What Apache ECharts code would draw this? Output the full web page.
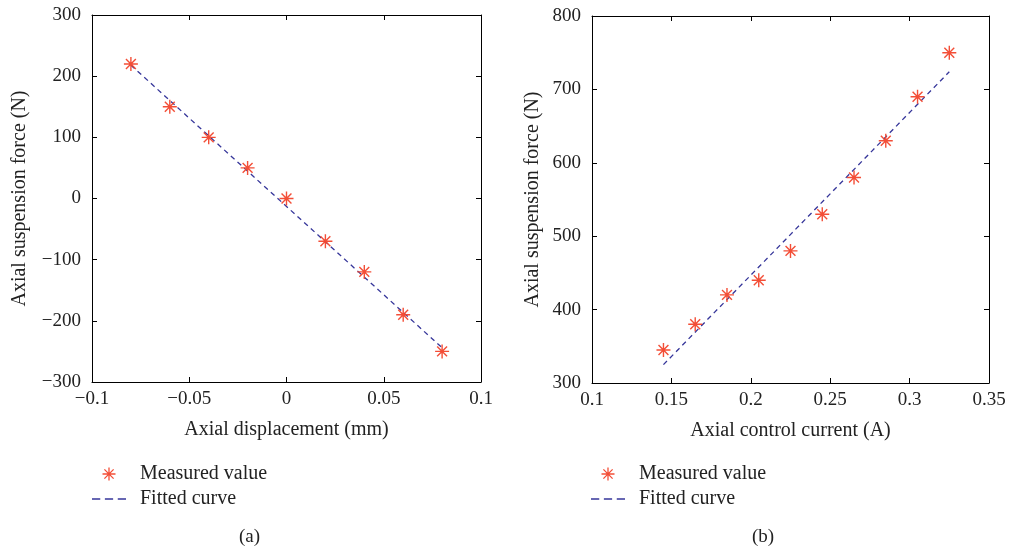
<!DOCTYPE html>
<html>
<head>
<meta charset="utf-8">
<script src="https://cdn.jsdelivr.net/npm/echarts@6/dist/echarts.min.js"></script>
<style>
  html, body { margin: 0; padding: 0; background: #fff; }
  #chart { width: 1009px; height: 554px; }
</style>
</head>
<body>
<div id="chart"></div>
<script>
// (a) force vs. displacement
const dispX = [-0.08, -0.06, -0.04, -0.02, 0, 0.02, 0.04, 0.06, 0.08];
const dispForce = [220, 150, 100, 50, 0, -70, -120, -190, -250];
const dispFitX = [-0.08, 0.08];
const dispFitY = [218, -244];

// (b) force vs. control current
const currX = [0.145, 0.165, 0.185, 0.205, 0.225, 0.245, 0.265, 0.285, 0.305, 0.325];
const currForce = [345, 380, 420, 440, 480, 530, 580, 630, 690, 750];
const currFitX = [0.145, 0.325];
const currFitY = [325, 724];

const MARK = '#f2452c';
const FIT = '#36369a';
const FONT = '"Liberation Serif", "DejaVu Serif", serif';
const TXT = '#222';

// eight-armed asterisk drawn as filled thin bars
const STAR = 'path://M-0.1,-1L0.1,-1L0.1,1L-0.1,1Z' +
  'M-1,-0.1L1,-0.1L1,0.1L-1,0.1Z' +
  'M-0.636,-0.778L0.778,0.636L0.636,0.778L-0.778,-0.636Z' +
  'M0.636,-0.778L0.778,-0.636L-0.636,0.778L-0.778,0.636Z';
const DASHES = 'path://M0,0h8v1.5h-8zM12.5,0h8v1.5h-8zM25,0h8v1.5h-8z';

const fmt = v => {
  const n = +v.toFixed(3);
  return n < 0 ? '\u2212' + Math.abs(n) : String(n);
};

const grids = [
  { left: 92, top: 15, width: 389, height: 367 },
  { left: 592, top: 16, width: 397, height: 367 }
];

function mainX(gi, name, min, max, interval) {
  return {
    type: 'value', gridIndex: gi, position: 'bottom', min, max, interval,
    name, nameLocation: 'middle', nameGap: 38,
    nameTextStyle: { fontFamily: FONT, fontSize: 20, color: TXT },
    axisLine: { onZero: false, lineStyle: { color: '#000', width: 1 } },
    axisTick: { inside: true, length: 5, lineStyle: { color: '#000' } },
    axisLabel: { formatter: fmt, fontFamily: FONT, fontSize: 19, color: TXT, margin: 8 },
    splitLine: { show: false }
  };
}
function boxX(gi, min, max, interval) {
  return {
    type: 'value', gridIndex: gi, position: 'top', min, max, interval,
    axisLine: { onZero: false, lineStyle: { color: '#000', width: 1 } },
    axisTick: { inside: true, length: 5, lineStyle: { color: '#000' } },
    axisLabel: { show: false }, splitLine: { show: false }
  };
}
function mainY(gi, name, min, max, interval) {
  return {
    type: 'value', gridIndex: gi, position: 'left', min, max, interval,
    name, nameLocation: 'middle', nameGap: 0,
    nameTextStyle: { fontFamily: FONT, fontSize: 20, color: TXT },
    axisLine: { onZero: false, lineStyle: { color: '#000', width: 1 } },
    axisTick: { inside: true, length: 5, lineStyle: { color: '#000' } },
    axisLabel: { formatter: fmt, fontFamily: FONT, fontSize: 19, color: TXT, margin: 11 },
    splitLine: { show: false }
  };
}
function boxY(gi, min, max, interval) {
  return {
    type: 'value', gridIndex: gi, position: 'right', min, max, interval,
    axisLine: { onZero: false, lineStyle: { color: '#000', width: 1 } },
    axisTick: { inside: true, length: 5, lineStyle: { color: '#000' } },
    axisLabel: { show: false }, splitLine: { show: false }
  };
}

const yA = mainY(0, 'Axial suspension force (N)', -300, 300, 100);
yA.nameGap = 62;
const yB = mainY(1, 'Axial suspension force (N)', 300, 800, 100);
yB.nameGap = 49;

const zip = (xs, ys) => xs.map((x, i) => [x, ys[i]]);

function legendAt(left, top) {
  return {
    left, top, padding: 0, orient: 'vertical', itemGap: 5, itemWidth: 34, itemHeight: 13,
    textStyle: { fontFamily: FONT, fontSize: 20, color: TXT, padding: [0, 0, 0, 9] },
    data: [
      { name: 'Measured value', icon: STAR, itemStyle: { color: MARK } },
      { name: 'Fitted curve', icon: DASHES, itemStyle: { color: FIT } }
    ]
  };
}

const option = {
  animation: false,
  backgroundColor: '#fff',
  grid: grids,
  xAxis: [
    mainX(0, 'Axial displacement (mm)', -0.1, 0.1, 0.05),
    boxX(0, -0.1, 0.1, 0.05),
    mainX(1, 'Axial control current (A)', 0.1, 0.35, 0.05),
    boxX(1, 0.1, 0.35, 0.05)
  ],
  yAxis: [yA, boxY(0, -300, 300, 100), yB, boxY(1, 300, 800, 100)],
  legend: [legendAt(92, 464), legendAt(591, 464)],
  series: [
    {
      name: 'Fitted curve', type: 'line', xAxisIndex: 0, yAxisIndex: 0,
      data: zip(dispFitX, dispFitY), symbol: 'none',
      lineStyle: { color: FIT, width: 1.3, type: [5, 4] }, itemStyle: { color: FIT }, z: 2
    },
    {
      name: 'Measured value', type: 'scatter', xAxisIndex: 0, yAxisIndex: 0,
      data: zip(dispX, dispForce), symbol: STAR, symbolSize: 14,
      itemStyle: { color: MARK, opacity: 0.95 }, z: 3
    },
    {
      name: 'Fitted curve', type: 'line', xAxisIndex: 2, yAxisIndex: 2,
      data: zip(currFitX, currFitY), symbol: 'none',
      lineStyle: { color: FIT, width: 1.3, type: [5, 4] }, itemStyle: { color: FIT }, z: 2
    },
    {
      name: 'Measured value', type: 'scatter', xAxisIndex: 2, yAxisIndex: 2,
      data: zip(currX, currForce), symbol: STAR, symbolSize: 14,
      itemStyle: { color: MARK, opacity: 0.95 }, z: 3
    }
  ],
  graphic: [
    { type: 'text', left: 239, top: 528, style: { text: '(a)', font: '19px ' + FONT, fill: TXT } },
    { type: 'text', left: 752, top: 528, style: { text: '(b)', font: '19px ' + FONT, fill: TXT } }
  ]
};

const chart = echarts.init(document.getElementById('chart'), null, { renderer: 'canvas' });
chart.setOption(option);
</script>
</body>
</html>
